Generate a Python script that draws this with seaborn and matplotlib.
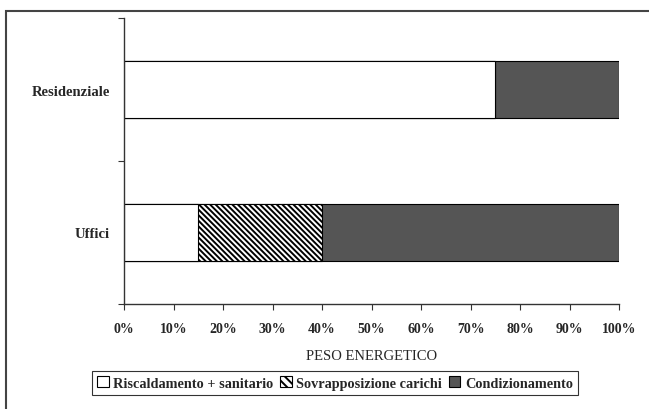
import pandas as pd
import matplotlib
matplotlib.use("Agg")
import matplotlib.pyplot as plt
from matplotlib.patches import Patch, Rectangle
import seaborn as sns

sns.set_style("white")
plt.rcParams['font.family'] = ['Liberation Serif', 'DejaVu Serif']
plt.rcParams['hatch.linewidth'] = 1.4

# dati (percentuali)
settori = ["Residenziale", "Uffici"]
riscaldamento = [75, 15]
sovrapposizione = [0, 25]
condizionamento = [25, 60]

etichette = ["Riscaldamento + sanitario", "Sovrapposizione carichi", "Condizionamento"]
tick_x = [0, 10, 20, 30, 40, 50, 60, 70, 80, 90, 100]

GRIGIO = "#555555"
TRATTEGGIO = "\\" * 6

df = pd.DataFrame({
    "settore": settori,
    "risc": riscaldamento,
    "sovr": sovrapposizione,
    "cond": condizionamento,
})
# cumulate per le barre sovrapposte
df["fino_sovr"] = df["risc"] + df["sovr"]
df["totale"] = df["fino_sovr"] + df["cond"]

fig = plt.figure(figsize=(6.49, 4.10), dpi=100)
ax = fig.add_axes([124 / 649, 1 - 305 / 410, (619 - 124) / 649, (305 - 19) / 410])

common = dict(data=df, y="settore", orient="h", width=0.4, saturation=1,
              edgecolor="black", linewidth=0.8, ax=ax)
sns.barplot(x="totale", color=GRIGIO, **common)
sns.barplot(x="fino_sovr", color="white", hatch=TRATTEGGIO, **common)
sns.barplot(x="risc", color="white", **common)

ax.set_xlim(0, 100)
ax.set_ylim(1.5, -0.5)
ax.set_xticks(tick_x)
ax.set_xticklabels([f"{t}%" for t in tick_x], fontweight="bold", fontsize=10)
ax.set_yticks(range(len(settori)))
ax.set_yticklabels(settori, fontweight="bold", fontsize=10.5)
ax.set_yticks([-0.5, 0.5, 1.5], minor=True)
ax.tick_params(axis="y", which="major", length=0, pad=10)
ax.tick_params(axis="y", which="minor", length=4, width=0.8, color="#333333", direction="out", left=True)
ax.tick_params(axis="x", length=4, width=0.8, color="#333333", direction="out", bottom=True, pad=9)
ax.set_xlabel("PESO ENERGETICO", fontsize=10.5, labelpad=10)
ax.set_ylabel("")

sns.despine(ax=ax)
for s in ["left", "bottom"]:
    ax.spines[s].set_color("#333333")
    ax.spines[s].set_linewidth(1.0)

# cornice esterna
fig.patches.append(Rectangle((6 / 649, -0.1), 1.2, 1 - 12 / 410 + 0.1, transform=fig.transFigure,
                             fill=False, edgecolor="#444444", linewidth=1.5))

handles = [
    Patch(facecolor="white", edgecolor="black", linewidth=0.8),
    Patch(facecolor="white", edgecolor="black", linewidth=0.8, hatch="\\" * 4),
    Patch(facecolor=GRIGIO, edgecolor="black", linewidth=0.8),
]
leg = fig.legend(handles, etichette, loc="center", bbox_to_anchor=(335 / 649, 1 - 384 / 410),
                 ncol=3, frameon=True, fancybox=False, edgecolor="black",
                 handlelength=0.8, handleheight=0.8, columnspacing=0.5, handletextpad=0.3,
                 borderpad=0.35, prop=dict(weight="bold", size=10.3))
leg.get_frame().set_linewidth(0.8)

plt.savefig("out.png", dpi=100)
plt.close()
